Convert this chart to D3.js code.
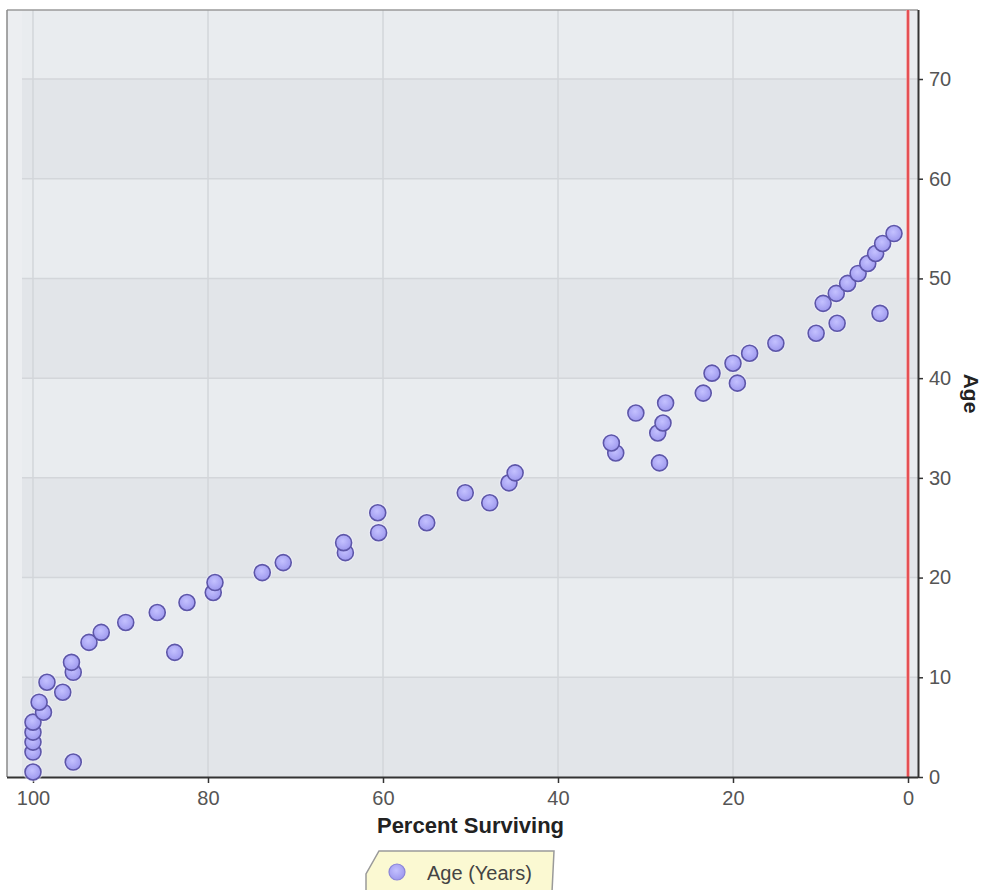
<!DOCTYPE html>
<html>
<head>
<meta charset="utf-8">
<script src="https://cdn.jsdelivr.net/npm/d3@7"></script>
<style>
  html, body { margin: 0; padding: 0; background: #ffffff; }
  svg { display: block; font-family: "Liberation Sans", Arial, sans-serif; }
</style>
</head>
<body>
<svg id="chart" width="985" height="890"></svg>
<script>
// ---- data ----
const ages = [0.5, 1.5, 2.5, 3.5, 4.5, 5.5, 6.5, 7.5, 8.5, 9.5,
  10.5, 11.5, 12.5, 13.5, 14.5, 15.5, 16.5, 17.5, 18.5, 19.5,
  20.5, 21.5, 22.5, 23.5, 24.5, 25.5, 26.5, 27.5, 28.5, 29.5,
  30.5, 31.5, 32.5, 33.5, 34.5, 35.5, 36.5, 37.5, 38.5, 39.5,
  40.5, 41.5, 42.5, 43.5, 44.5, 45.5, 46.5, 47.5, 48.5, 49.5,
  50.5, 51.5, 52.5, 53.5, 54.5];
const percentSurviving = [100, 95.4, 100, 100, 100, 100, 98.8, 99.3, 96.6, 98.4,
  95.4, 95.6, 83.8, 93.6, 92.2, 89.4, 85.8, 82.4, 79.4, 79.2,
  73.8, 71.4, 64.3, 64.5, 60.5, 55.0, 60.6, 47.8, 50.6, 45.6,
  44.9, 28.4, 33.4, 33.9, 28.6, 28.0, 31.1, 27.7, 23.4, 19.5,
  22.4, 20.0, 18.1, 15.1, 10.5, 8.1, 3.2, 9.7, 8.2, 6.9,
  5.7, 4.6, 3.7, 2.9, 1.6];
const xTicks = [100, 80, 60, 40, 20, 0];
const yTicks = [0, 10, 20, 30, 40, 50, 60, 70];
const xTitle = "Percent Surviving";
const yTitle = "Age";
const seriesName = "Age (Years)";

// ---- layout ----
const L = 7, R = 918, T = 10, B = 777;
const svg = d3.select("#chart");

const x = d3.scaleLinear().domain([102.97, -1.143]).range([L, R]);
const y = d3.scaleLinear().domain([0, 76.92]).range([B, T]);

const defs = svg.append("defs");
const grad = defs.append("radialGradient").attr("id", "dotGrad")
  .attr("cx", "45%").attr("cy", "40%").attr("r", "60%");
grad.append("stop").attr("offset", "0%").attr("stop-color", "#c4c1ff");
grad.append("stop").attr("offset", "100%").attr("stop-color", "#9d98ee");

// background
svg.append("rect").attr("x", L).attr("y", T).attr("width", R - L).attr("height", B - T)
  .attr("fill", "#eceef1");

// horizontal bands (alternate)
const bandEdges = yTicks.concat([y.domain()[1]]);
const g = svg.append("g");
for (let i = 0; i < bandEdges.length - 1; i++) {
  g.append("rect")
    .attr("x", L + 15).attr("width", R - L - 15)
    .attr("y", y(bandEdges[i + 1])).attr("height", y(bandEdges[i]) - y(bandEdges[i + 1]))
    .attr("fill", i % 2 === 0 ? "#e2e5e9" : "#e9ecef");
}

// gridlines
svg.append("g").selectAll("line.h").data(yTicks.filter(d => d > 0)).join("line")
  .attr("x1", L + 15).attr("x2", R).attr("y1", d => y(d)).attr("y2", d => y(d))
  .attr("stroke", "#d3d6da").attr("stroke-width", 1.5);
svg.append("g").selectAll("line.v").data(xTicks.filter(d => d > 0)).join("line")
  .attr("x1", d => x(d)).attr("x2", d => x(d)).attr("y1", T).attr("y2", B)
  .attr("stroke", "#d3d6da").attr("stroke-width", 1.5);

// frame top / left
svg.append("line").attr("x1", L).attr("x2", R).attr("y1", T).attr("y2", T)
  .attr("stroke", "#9a9a9a").attr("stroke-width", 1.5);
svg.append("line").attr("x1", L).attr("x2", L).attr("y1", T).attr("y2", B)
  .attr("stroke", "#8a8a8a").attr("stroke-width", 1.5);

// red zero line
svg.append("line").attr("x1", x(0)).attr("x2", x(0)).attr("y1", T).attr("y2", B)
  .attr("stroke", "#f4a0a0").attr("stroke-width", 3.5);
svg.append("line").attr("x1", x(0)).attr("x2", x(0)).attr("y1", T).attr("y2", B)
  .attr("stroke", "#e0353a").attr("stroke-width", 1.5);

// axes
const xAxis = svg.append("g").attr("transform", `translate(0,${B})`)
  .call(d3.axisBottom(x).tickValues(xTicks).tickSize(6).tickPadding(8));
xAxis.select(".domain").attr("d", `M${L},0.5H${R}`).attr("stroke", "#333").attr("stroke-width", 2);
xAxis.selectAll(".tick line").attr("stroke", "#333").attr("stroke-width", 1.5);
xAxis.selectAll(".tick text").attr("font-size", 20).attr("fill", "#555")
  .attr("font-family", "'Liberation Sans', Arial, sans-serif");

const yAxis = svg.append("g").attr("transform", `translate(${R},0)`)
  .call(d3.axisRight(y).tickValues(yTicks).tickSize(5).tickPadding(6));
yAxis.select(".domain").attr("d", `M0.5,${T}V${B}`).attr("stroke", "#333").attr("stroke-width", 2);
yAxis.selectAll(".tick line").attr("stroke", "#333").attr("stroke-width", 1.5);
yAxis.selectAll(".tick text").attr("font-size", 20).attr("fill", "#555")
  .attr("font-family", "'Liberation Sans', Arial, sans-serif");

// points
const pts = ages.map((a, i) => ({ age: a, pct: percentSurviving[i] }));
svg.append("g").selectAll("circle.halo").data(pts).join("circle")
  .attr("cx", d => x(d.pct)).attr("cy", d => y(d.age)).attr("r", 10)
  .attr("fill", "#f4f4ff").attr("opacity", 0.5);
svg.append("g").selectAll("circle.dot").data(pts).join("circle")
  .attr("cx", d => x(d.pct)).attr("cy", d => y(d.age)).attr("r", 8)
  .attr("fill", "url(#dotGrad)").attr("stroke", "#5d56a8").attr("stroke-width", 1.6);

// axis titles
svg.append("text").attr("x", (x(100) + x(0)) / 2).attr("y", 833)
  .attr("text-anchor", "middle").attr("font-size", 22).attr("font-weight", "bold")
  .attr("fill", "#222").text(xTitle);
svg.append("text").attr("transform", `translate(964,${(T + B) / 2}) rotate(90)`)
  .attr("text-anchor", "middle").attr("font-size", 21).attr("font-weight", "bold")
  .attr("fill", "#222").text(yTitle);

// legend
const lg = svg.append("g");
lg.append("path")
  .attr("d", "M379,851 L554,851 L552,892 L366,892 L366,874 Z")
  .attr("fill", "#fbf9d2").attr("stroke", "#9a9a9a").attr("stroke-width", 1.5);
lg.append("circle").attr("cx", 397).attr("cy", 872).attr("r", 8)
  .attr("fill", "url(#dotGrad)").attr("stroke", "#8a85d8").attr("stroke-width", 1.2);
lg.append("text").attr("x", 427).attr("y", 880).attr("font-size", 20)
  .attr("fill", "#444").text(seriesName);
</script>
</body>
</html>
